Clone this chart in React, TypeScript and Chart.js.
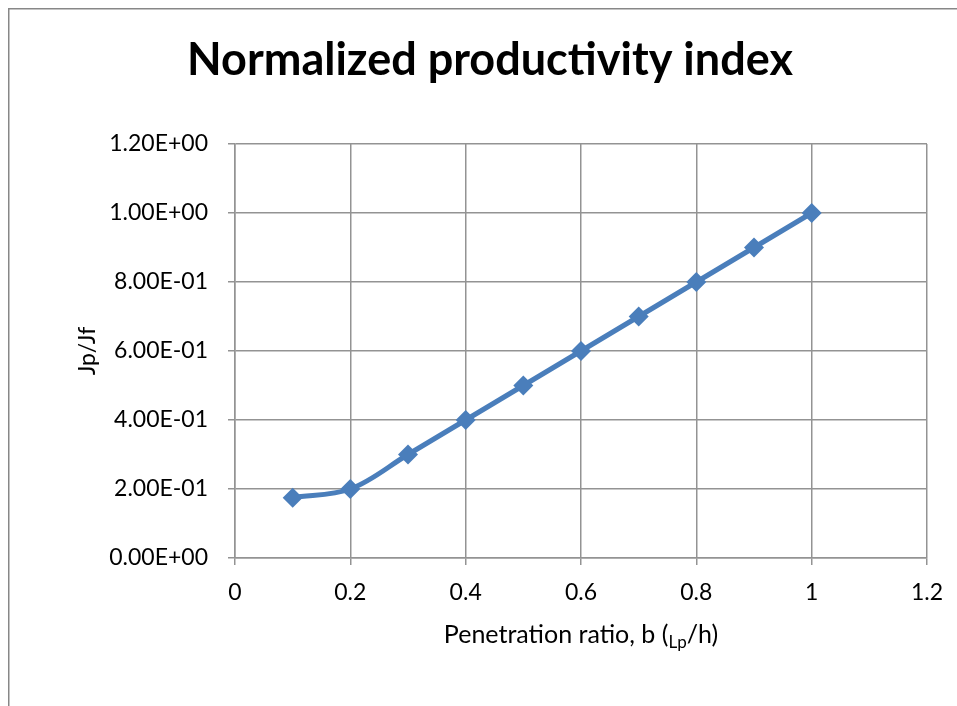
import React, { useEffect, useRef } from "react";
import { Chart, registerables } from "chart.js";

Chart.register(...registerables);

// Penetration ratio b (Lp/h) and normalized productivity index Jp/Jf
const penetrationRatio = [0.1, 0.2, 0.3, 0.4, 0.5, 0.6, 0.7, 0.8, 0.9, 1.0];
const jpOverJf = [0.175, 0.2, 0.3, 0.4, 0.5, 0.6, 0.7, 0.8, 0.9, 1.0];

const chartTitle = "Normalized productivity index";
const yAxisTitle = "Jp/Jf";
const xAxisTitleMain = "Penetration ratio, b (";
const xAxisTitleSub = "Lp";
const xAxisTitleEnd = "/h)";

const FONT = 'Lato, "Open Sans", "DejaVu Sans", sans-serif';
const LINE_COLOR = "#4a7ebb";
const GRID_COLOR = "#939393";

const CANVAS_W = 960;
const CANVAS_H = 698;

// Excel-style scientific notation: 1.20E+00, 8.00E-01
function sci(v: number): string {
  if (v === 0) return "0.00E+00";
  const exp = Math.floor(Math.log10(Math.abs(v)) + 1e-9);
  const mant = v / Math.pow(10, exp);
  const sign = exp < 0 ? "-" : "+";
  const e = String(Math.abs(exp)).padStart(2, "0");
  return mant.toFixed(2) + "E" + sign + e;
}

const decorations = {
  id: "decorations",
  beforeDraw(chart: Chart) {
    const ctx = chart.ctx;
    ctx.save();
    ctx.fillStyle = "#ffffff";
    ctx.fillRect(0, 0, chart.width, chart.height);
    ctx.restore();
  },
  afterDraw(chart: Chart) {
    const ctx = chart.ctx;
    const area = chart.chartArea;
    ctx.save();

    // outer frame (left and top edges visible)
    ctx.strokeStyle = "#878787";
    ctx.lineWidth = 1.5;
    ctx.beginPath();
    ctx.moveTo(0.75, chart.height);
    ctx.lineTo(0.75, 0.75);
    ctx.lineTo(chart.width, 0.75);
    ctx.stroke();

    ctx.fillStyle = "#000";

    // chart title
    ctx.font = `bold 45px ${FONT}`;
    ctx.textAlign = "center";
    ctx.textBaseline = "middle";
    ctx.fillText(chartTitle, 482, 52);

    // y axis title
    ctx.font = `23px ${FONT}`;
    ctx.save();
    ctx.translate(80, (area.top + area.bottom) / 2);
    ctx.rotate(-Math.PI / 2);
    ctx.textAlign = "center";
    ctx.textBaseline = "middle";
    ctx.fillText(yAxisTitle, 0, 0);
    ctx.restore();

    // x axis title with subscript
    const mainFont = `25px ${FONT}`;
    const subFont = `17px ${FONT}`;
    ctx.font = mainFont;
    const w1 = ctx.measureText(xAxisTitleMain).width;
    const w3 = ctx.measureText(xAxisTitleEnd).width;
    ctx.font = subFont;
    const w2 = ctx.measureText(xAxisTitleSub).width;
    const total = w1 + w2 + w3;
    const cx = (area.left + area.right) / 2;
    let x = cx - total / 2;
    const baseY = 635;
    ctx.textAlign = "left";
    ctx.textBaseline = "alphabetic";
    ctx.font = mainFont;
    ctx.fillText(xAxisTitleMain, x, baseY);
    x += w1;
    ctx.font = subFont;
    ctx.fillText(xAxisTitleSub, x, baseY + 5);
    x += w2;
    ctx.font = mainFont;
    ctx.fillText(xAxisTitleEnd, x, baseY);

    ctx.restore();
  },
};

export default function App() {
  const canvasRef = useRef<HTMLCanvasElement | null>(null);

  useEffect(() => {
    document.documentElement.style.overflow = "hidden";
    if (!canvasRef.current) return;
    const chart = new Chart(canvasRef.current, {
      type: "line",
      data: {
        datasets: [
          {
            data: penetrationRatio.map((b, i) => ({ x: b, y: jpOverJf[i] })),
            borderColor: LINE_COLOR,
            backgroundColor: LINE_COLOR,
            borderWidth: 5,
            tension: 0.35,
            pointStyle: "rectRot",
            pointRadius: 10,
            pointBorderWidth: 0,
            pointBackgroundColor: LINE_COLOR,
          },
        ],
      },
      options: {
        animation: false,
        responsive: false,
        layout: { padding: { left: 0, top: 136, right: CANVAS_W - 919, bottom: 0 } },
        plugins: {
          legend: { display: false },
          title: { display: false },
          tooltip: { enabled: false },
        },
        scales: {
          x: {
            type: "linear",
            min: 0,
            max: 1.2,
            ticks: {
              stepSize: 0.2,
              color: "#000",
              padding: 14,
              font: { family: FONT, size: 23 },
              maxRotation: 0,
              callback: (v: any) => String(Math.round(Number(v) * 10) / 10),
            },
            grid: { color: GRID_COLOR, lineWidth: 1.5, tickLength: 7 },
            border: { color: GRID_COLOR, width: 1.5 },
            afterFit(scale: any) {
              scale.height = 148;
            },
          },
          y: {
            type: "linear",
            min: 0,
            max: 1.2,
            ticks: {
              stepSize: 0.2,
              color: "#000",
              padding: 20,
              font: { family: FONT, size: 23 },
              callback: (v: any) => sci(Number(v)),
            },
            grid: { color: GRID_COLOR, lineWidth: 1.5, tickLength: 7 },
            border: { color: GRID_COLOR, width: 1.5 },
            afterFit(scale: any) {
              scale.width = 227;
            },
          },
        },
      },
      plugins: [decorations],
    });
    return () => chart.destroy();
  }, []);

  return (
    <div style={{ position: "fixed", left: 8, top: 8, width: CANVAS_W, height: CANVAS_H, overflow: "hidden" }}>
      <canvas ref={canvasRef} width={CANVAS_W} height={CANVAS_H} style={{ display: "block" }} />
    </div>
  );
}
